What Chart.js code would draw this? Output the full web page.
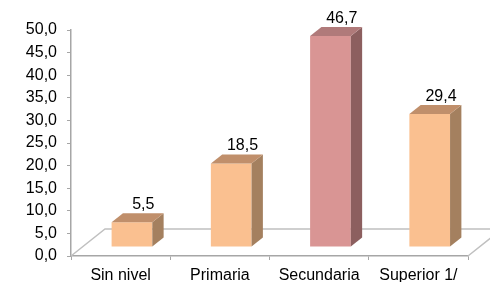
<!DOCTYPE html>
<html>
<head>
<meta charset="utf-8">
<script src="https://cdn.jsdelivr.net/npm/chart.js@4.4.0/dist/chart.umd.min.js"></script>
<style>
  html, body { margin: 0; padding: 0; background: #fff; }
  #wrap { width: 490px; height: 282px; }
</style>
</head>
<body>
<div id="wrap"><canvas id="levelChart"></canvas></div>
<script>
const categories = ['Sin nivel', 'Primaria', 'Secundaria', 'Superior 1/'];
const values = [5.5, 18.5, 46.7, 29.4];
const frontColors = ['#fac090', '#fac090', '#d99594', '#fac090'];
const sideColors = ['#a4805f', '#a4805f', '#8c5f5f', '#a4805f'];
const topColors = ['#c08f6b', '#c08f6b', '#b07a7a', '#c08f6b'];
const yMin = 0, yMax = 50, yStep = 5;

const FLOOR_DX = 34, FLOOR_DY = -27; // depth of the floor
const BAR_DX = FLOOR_DX / 3, BAR_DY = FLOOR_DY / 3;
const fmt = v => v.toFixed(1).replace('.', ',');

const box3d = {
  id: 'box3d',
  beforeDatasetsDraw(chart) {
    const { ctx, chartArea: a } = chart;
    ctx.save();
    ctx.strokeStyle = '#c0c0c0';
    ctx.lineWidth = 1.5;
    ctx.beginPath();
    ctx.moveTo(a.left, a.bottom);
    ctx.lineTo(a.left + FLOOR_DX, a.bottom + FLOOR_DY);
    ctx.lineTo(a.right + FLOOR_DX, a.bottom + FLOOR_DY);
    ctx.lineTo(a.right, a.bottom);
    ctx.stroke();
    ctx.restore();
  },
  beforeDatasetDraw(chart) {
    chart.ctx.save();
    chart.ctx.translate(BAR_DX, BAR_DY);
  },
  afterDatasetDraw(chart, args) {
    const ctx = chart.ctx;
    args.meta.data.forEach((bar, i) => {
      const l = bar.x - bar.width / 2, r = bar.x + bar.width / 2;
      const t = bar.y, b = bar.base;
      // side face
      ctx.fillStyle = sideColors[i];
      ctx.beginPath();
      ctx.moveTo(r, b);
      ctx.lineTo(r, t);
      ctx.lineTo(r + BAR_DX, t + BAR_DY);
      ctx.lineTo(r + BAR_DX, b + BAR_DY);
      ctx.closePath();
      ctx.fill();
      // top face
      ctx.fillStyle = topColors[i];
      ctx.beginPath();
      ctx.moveTo(l, t);
      ctx.lineTo(r, t);
      ctx.lineTo(r + BAR_DX, t + BAR_DY);
      ctx.lineTo(l + BAR_DX, t + BAR_DY);
      ctx.closePath();
      ctx.fill();
    });
    ctx.restore();
  },
  afterDatasetsDraw(chart) {
    const ctx = chart.ctx;
    ctx.save();
    ctx.fillStyle = '#000';
    ctx.font = '16px "Liberation Sans", Arial, sans-serif';
    ctx.textAlign = 'center';
    ctx.textBaseline = 'alphabetic';
    chart.getDatasetMeta(0).data.forEach((bar, i) => {
      ctx.fillText(fmt(values[i]), bar.x + BAR_DX * 2, bar.y + BAR_DY * 2 - 4);
    });
    ctx.restore();
  }
};

Chart.defaults.font.family = '"Liberation Sans", Arial, sans-serif';
Chart.defaults.font.size = 16;
Chart.defaults.color = '#000';

new Chart(document.getElementById('levelChart'), {
  type: 'bar',
  data: {
    labels: categories,
    datasets: [{
      data: values,
      backgroundColor: frontColors,
      borderWidth: 0,
      categoryPercentage: 1,
      barPercentage: 0.41
    }]
  },
  options: {
    responsive: true,
    maintainAspectRatio: false,
    animation: false,
    layout: { padding: { top: 30, right: 22, left: 0, bottom: 0 } },
    plugins: { legend: { display: false }, tooltip: { enabled: false } },
    scales: {
      x: {
        offset: true,
        grid: { display: true, offset: true, drawOnChartArea: false, tickLength: 4, color: '#a6a6a6' },
        border: { color: '#a6a6a6', width: 1.5 },
        ticks: { padding: 6, maxRotation: 0 },
        afterFit: s => { s.height = 26; }
      },
      y: {
        min: yMin,
        max: yMax,
        grid: { display: true, drawOnChartArea: false, tickLength: 4, color: '#a6a6a6' },
        border: { color: '#a6a6a6', width: 1.5 },
        ticks: { stepSize: yStep, padding: 10, callback: v => fmt(v) },
        afterFit: s => { s.width = 71; }
      }
    }
  },
  plugins: [box3d]
});
</script>
</body>
</html>
